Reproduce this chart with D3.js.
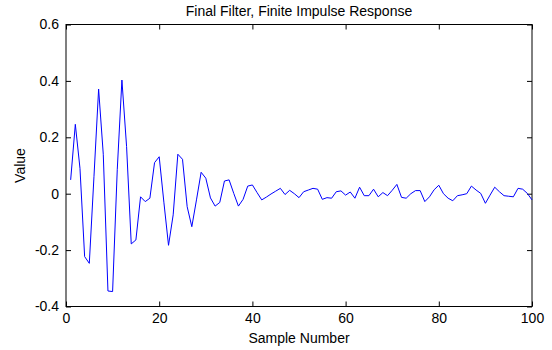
<!DOCTYPE html>
<html><head><meta charset="utf-8">
<script src="https://cdn.jsdelivr.net/npm/d3@7"></script>
<style>body{margin:0;background:#fff}svg{display:block}text{font-family:"Liberation Sans",Arial,sans-serif;font-size:14px;fill:#000}</style>
</head><body>
<script>
const title = "Final Filter, Finite Impulse Response";
const xLabel = "Sample Number";
const yLabel = "Value";
const xTicks = [0, 20, 40, 60, 80, 100];
const yTicks = [-0.4, -0.2, 0, 0.2, 0.4, 0.6];
const yTickLabels = ["-0.4", "-0.2", "0", "0.2", "0.4", "0.6"];
const values = [
 0.049, 0.246, 0.09, -0.223, -0.247, 0.06, 0.371, 0.14, -0.345, -0.347,
 0.085, 0.403, 0.167, -0.178, -0.164, -0.011, -0.028, -0.016, 0.11, 0.131,
 -0.03, -0.183, -0.075, 0.14, 0.122, -0.046, -0.117, -0.022, 0.076, 0.055,
 -0.015, -0.044, -0.031, 0.045, 0.049, 0.001, -0.044, -0.02, 0.027, 0.031,
 0.004, -0.022, -0.012, -0.001, 0.009, 0.019, -0.003, 0.012, 0.0, -0.014,
 0.007, 0.013, 0.019, 0.016, -0.02, -0.014, -0.016, 0.007, 0.01, -0.005,
 0.006, -0.016, 0.023, -0.007, -0.007, 0.016, -0.011, 0.004, -0.007, 0.012,
 0.033, -0.013, -0.016, 0.0, 0.011, 0.011, -0.028, -0.011, 0.014, 0.03,
 0.0, -0.016, -0.025, -0.007, -0.004, 0.0, 0.027, 0.013, 0.001, -0.034,
 -0.005, 0.023, 0.007, -0.007, -0.009, -0.011, 0.019, 0.016, 0.001, -0.022
];
const samples = values.map((v, i) => i + 1);

const W = 552, H = 350;
const L = 66, R = 532, T = 24.5, B = 306.5;
const svg = d3.select("body").append("svg").attr("width", W).attr("height", H);
const x = d3.scaleLinear().domain([0, 100]).range([L, R]);
const y = d3.scaleLinear().domain([-0.4, 0.6]).range([B, T]);

const tl = 5;
const styleText = g => g.selectAll("text").attr("font-size", 14).attr("font-family", "Liberation Sans, Arial").attr("fill", "#000");
svg.append("g").attr("transform", `translate(0,${B})`)
  .call(d3.axisBottom(x).tickValues(xTicks).tickSize(-tl).tickPadding(7).tickFormat(d3.format("d")))
  .call(g => { g.select(".domain").remove(); styleText(g); });
svg.append("g").attr("transform", `translate(0,${T})`)
  .call(d3.axisTop(x).tickValues(xTicks).tickSize(-tl).tickFormat(""))
  .call(g => g.select(".domain").remove());
svg.append("g").attr("transform", `translate(${L},0)`)
  .call(d3.axisLeft(y).tickValues(yTicks).tickSize(-tl).tickPadding(7).tickFormat((d, i) => yTickLabels[i]))
  .call(g => { g.select(".domain").remove(); styleText(g); });
svg.append("g").attr("transform", `translate(${R},0)`)
  .call(d3.axisRight(y).tickValues(yTicks).tickSize(-tl).tickFormat(""))
  .call(g => g.select(".domain").remove());

svg.append("rect").attr("x", L).attr("y", T).attr("width", R - L).attr("height", B - T)
  .attr("fill", "none").attr("stroke", "#000").attr("stroke-width", 1);

const line = d3.line().x((d, i) => x(samples[i])).y(d => y(d));
svg.append("path").datum(values).attr("d", line)
  .attr("fill", "none").attr("stroke", "#0000ff").attr("stroke-width", 1);

svg.append("text").attr("x", (L + R) / 2).attr("y", 15.5).attr("text-anchor", "middle").text(title);
svg.append("text").attr("x", (L + R) / 2).attr("y", 343).attr("text-anchor", "middle").text(xLabel);
svg.append("text").attr("transform", `translate(25,${(T + B) / 2}) rotate(-90)`).attr("text-anchor", "middle").text(yLabel);
</script>
</body></html>
